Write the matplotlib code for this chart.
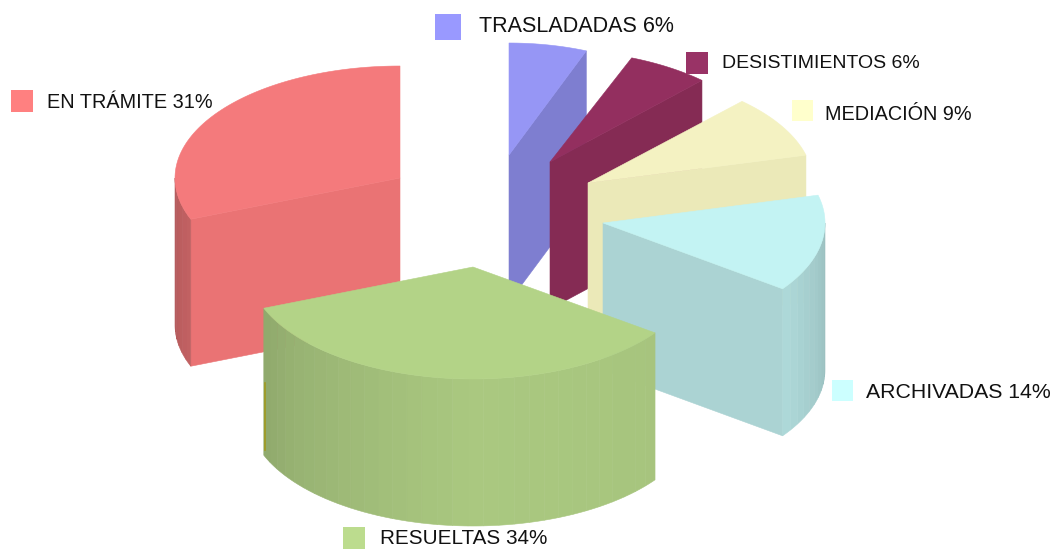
#exploded 3d pie, drawn by hand since the tilt and the per-slice offsets don't exist in ax.pie
import numpy as np
import matplotlib
matplotlib.use("Agg")
import matplotlib.pyplot as plt
from matplotlib.patches import Rectangle

categories = ["TRASLADADAS", "DESISTIMIENTOS", "MEDIACIÓN", "ARCHIVADAS", "RESUELTAS", "EN TRÁMITE"]
values = [6, 6, 9, 14, 34, 31]

# layout, in pixels of the 1060x552 picture
apex_x = [509, 550, 588, 603, 473, 400]
apex_y = [155, 162, 183, 223, 267, 178]
radius_x = [210, 222, 225, 222, 225, 225]
radius_y = 112
height = 147
legend_x = [435, 686, 792, 832, 343, 11]
legend_y = [14, 52, 100, 380, 527, 90]
legend_size = [26, 22, 21, 21, 22, 22]
label_x = [479, 722, 825, 866, 380, 47]
label_y = [26, 64, 114, 392, 539, 102]
label_size = [15.5, 14.0, 14.3, 15.3, 14.9, 14.3]

# colours
legend_colors = ["#9999ff", "#993366", "#ffffcc", "#ccffff", "#bcdc8e", "#ff8080"]
top_colors = ["#9696f5", "#932f5f", "#f4f2c2", "#c3f3f3", "#b3d387", "#f47a7c"]
face_colors = ["#7e7ed0", "#852b54", "#ebe9b8", "#abd3d3", "#b3d387", "#ea7374"]
wall_tint = [1, 1, 1, 0.96, 1, 1]
shade_angles = [90, 126, 180, 230, 248, 270]
shade_levels = [0.81, 0.93, 0.95, 0.85, 0.80, 0.73]

plt.rcParams["font.family"] = ["Liberation Sans", "DejaVu Sans"]
fig = plt.figure(figsize=(10.6, 5.52), dpi=100)
ax = fig.add_axes([0, 0, 1, 1])
ax.set_xlim(0, 1060)
ax.set_ylim(552, 0)
ax.axis("off")


def rim(i, th):
    #point on the top ellipse of slice i, th in degrees clockwise from 12 o'clock
    r = np.radians(th)
    return apex_x[i] + radius_x[i] * np.sin(r), apex_y[i] - radius_y * np.cos(r)


def shaded(color, level):
    rgb = np.array(matplotlib.colors.to_rgb(color))
    return tuple(rgb * level)


ends = np.cumsum(values) * 3.6
starts = ends - np.array(values) * 3.6

# back slices first, then the red one, the green one goes on top
for z, i in enumerate([0, 1, 2, 3, 5, 4]):
    th0, th1 = starts[i], ends[i]
    ax0, ay0 = apex_x[i], apex_y[i]

    # flat cut faces, only the ones turned towards the viewer
    for th, normal in [(th0, th0 - 90), (th1, th1 + 90)]:
        if np.cos(np.radians(normal)) < -1e-6:
            x, y = rim(i, th)
            ax.fill([ax0, x, x, ax0], [ay0, y, y + height, ay0 + height],
                    color=face_colors[i], lw=0.4, zorder=z + 1)

    # outer wall as narrow strips so it gets the banded look
    lo, hi = max(th0, 90), min(th1, 270)
    if hi > lo:
        edges = np.linspace(lo, hi, int((hi - lo) / 4) + 2)
        for a, b in zip(edges[:-1], edges[1:]):
            level = np.interp((a + b) / 2, shade_angles, shade_levels) * wall_tint[i]
            sweep = np.linspace(a, b, 5)
            x, y = rim(i, sweep)
            ax.fill(np.r_[x, x[::-1]], np.r_[y, y[::-1] + height],
                    color=shaded(top_colors[i], level), lw=0.4, zorder=z + 1)

    # top
    sweep = np.linspace(th0, th1, 80)
    x, y = rim(i, sweep)
    ax.fill(np.r_[ax0, x], np.r_[ay0, y], color=top_colors[i], lw=0.4, zorder=z + 1)

# olive sliver on the left edge of the green wall
gx, gy = rim(4, ends[4])
ax.plot([gx + 1, gx + 1], [gy + 75, gy + 142], color="#a09a20", lw=1.2, zorder=10)

for i in range(len(categories)):
    s = legend_size[i]
    ax.add_patch(Rectangle((legend_x[i], legend_y[i]), s, s, color=legend_colors[i], lw=0, zorder=20))
    ax.text(label_x[i], label_y[i], f"{categories[i]} {values[i]}%", fontsize=label_size[i],
            color="#111111", ha="left", va="center", zorder=21)

fig.savefig("out.png", dpi=100, facecolor="white")
